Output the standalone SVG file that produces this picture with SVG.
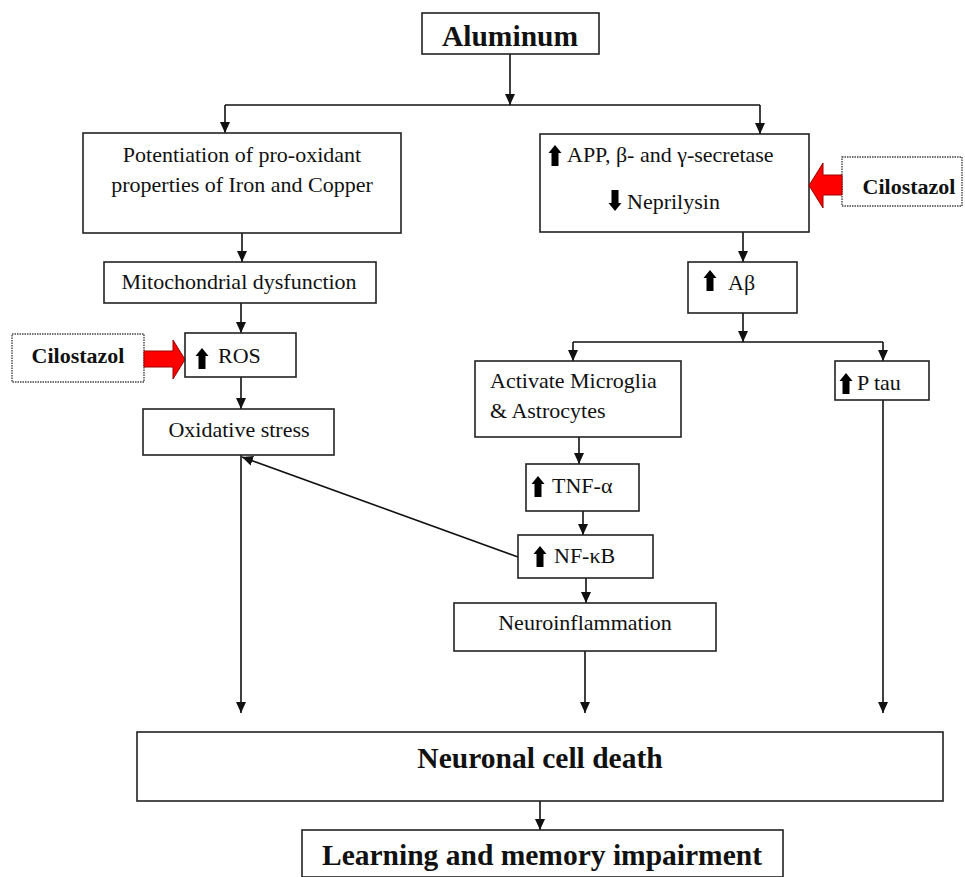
<svg xmlns="http://www.w3.org/2000/svg" xmlns:xlink="http://www.w3.org/1999/xlink" width="965" height="877" viewBox="0 0 965 877">
<style>
.box{fill:#fff;stroke:#222;stroke-width:1.6}
.dot{fill:#fff;stroke:#444;stroke-width:1.4;stroke-dasharray:1.5 1}
.t{font-family:"Liberation Serif","Times New Roman",serif;font-size:22px;fill:#111}
.b{font-family:"Liberation Serif","Times New Roman",serif;font-weight:bold;font-size:29.5px;fill:#111}
.bs{font-family:"Liberation Serif","Times New Roman",serif;font-weight:bold;font-size:22px;fill:#111}
.c{text-anchor:middle}
.ln{fill:none;stroke:#111;stroke-width:1.6}
.red{fill:#f00;stroke:#900;stroke-width:1}
</style>
<defs>
<marker id="ah" markerUnits="userSpaceOnUse" markerWidth="12" markerHeight="12" viewBox="0 0 12 12" refX="11" refY="6" orient="auto">
<path d="M0,1 L11,6 L0,11 Z" fill="#111"/>
</marker>
<path id="up" d="M0,0 L6.5,8 L3.5,8 L3.5,21 L-3.5,21 L-3.5,8 L-6.5,8 Z" fill="#000"/>
<path id="down" d="M0,21 L6.5,13 L3.5,13 L3.5,0 L-3.5,0 L-3.5,13 L-6.5,13 Z" fill="#000"/>
</defs>

<g id="connectors">
<line class="ln" x1="510" y1="54" x2="510" y2="105" marker-end="url(#ah)"/>
<line class="ln" x1="225" y1="105" x2="760" y2="105"/>
<line class="ln" x1="225" y1="105" x2="225" y2="133" marker-end="url(#ah)"/>
<line class="ln" x1="760" y1="105" x2="760" y2="134" marker-end="url(#ah)"/>
<line class="ln" x1="242" y1="233" x2="242" y2="262" marker-end="url(#ah)"/>
<line class="ln" x1="241" y1="303" x2="241" y2="333" marker-end="url(#ah)"/>
<line class="ln" x1="241" y1="377" x2="241" y2="409" marker-end="url(#ah)"/>
<line class="ln" x1="743" y1="232" x2="743" y2="262" marker-end="url(#ah)"/>
<line class="ln" x1="743" y1="313" x2="743" y2="342" marker-end="url(#ah)"/>
<line class="ln" x1="573" y1="342" x2="883" y2="342"/>
<line class="ln" x1="573" y1="342" x2="573" y2="361" marker-end="url(#ah)"/>
<line class="ln" x1="883" y1="342" x2="883" y2="361" marker-end="url(#ah)"/>
<line class="ln" x1="579" y1="437" x2="579" y2="464" marker-end="url(#ah)"/>
<line class="ln" x1="583" y1="511" x2="583" y2="535" marker-end="url(#ah)"/>
<line class="ln" x1="586" y1="578" x2="586" y2="603" marker-end="url(#ah)"/>
<line class="ln" x1="585" y1="651" x2="585" y2="713" marker-end="url(#ah)"/>
<line class="ln" x1="241" y1="455" x2="241" y2="713" marker-end="url(#ah)"/>
<line class="ln" x1="883" y1="400" x2="883" y2="713" marker-end="url(#ah)"/>
<line class="ln" x1="518" y1="557" x2="242" y2="457" marker-end="url(#ah)"/>
<line class="ln" x1="540" y1="801" x2="540" y2="830" marker-end="url(#ah)"/>
</g>

<g id="aluminum">
<rect class="box" x="422" y="13" width="177" height="41"/>
<text class="b c" x="510" y="46">Aluminum</text>
</g>

<g id="potentiation">
<rect class="box" x="83" y="133" width="318" height="100"/>
<text class="t c" x="242" y="162">Potentiation of pro-oxidant</text>
<text class="t c" x="242" y="192">properties of Iron and Copper</text>
</g>

<g id="app">
<rect class="box" x="540" y="134" width="269" height="98"/>
<use href="#up" x="555" y="145"/>
<text class="t" x="567" y="162">APP, β- and γ-secretase</text>
<use href="#down" x="615" y="190"/>
<text class="t" x="627" y="209">Neprilysin</text>
</g>

<g id="cilostazol-right">
<rect class="dot" x="842" y="157" width="120" height="49"/>
<text class="bs c" x="909" y="194">Cilostazol</text>
<path class="red" d="M842,175 L823,175 L823,163 L809,185.5 L823,208 L823,195 L842,195 Z"/>
</g>

<g id="mito">
<rect class="box" x="104" y="262" width="272" height="41"/>
<text class="t c" x="239" y="289">Mitochondrial dysfunction</text>
</g>

<g id="abeta">
<rect class="box" x="688" y="262" width="109" height="51"/>
<use href="#up" x="710" y="270"/>
<text class="t" x="728" y="290">Aβ</text>
</g>

<g id="cilostazol-left">
<rect class="dot" x="12" y="334" width="132" height="48"/>
<text class="bs c" x="78" y="363">Cilostazol</text>
<path class="red" d="M144,351 L173,351 L173,340 L185,359.5 L173,379 L173,367 L144,367 Z"/>
</g>

<g id="ros">
<rect class="box" x="185" y="333" width="111" height="44"/>
<use href="#up" x="202" y="348"/>
<text class="t" x="218" y="363">ROS</text>
</g>

<g id="oxidative">
<rect class="box" x="143" y="409" width="191" height="46"/>
<text class="t c" x="239" y="437">Oxidative stress</text>
</g>

<g id="activate">
<rect class="box" x="475" y="361" width="206" height="76"/>
<text class="t" x="490" y="388">Activate Microglia</text>
<text class="t" x="490" y="418">&amp; Astrocytes</text>
</g>

<g id="ptau">
<rect class="box" x="835" y="361" width="94" height="39"/>
<use href="#up" x="846" y="373"/>
<text class="t" x="857" y="390">P tau</text>
</g>

<g id="tnf">
<rect class="box" x="526" y="464" width="113" height="47"/>
<use href="#up" x="538" y="476"/>
<text class="t" x="552" y="493">TNF-α</text>
</g>

<g id="nfkb">
<rect class="box" x="518" y="535" width="135" height="43"/>
<use href="#up" x="540" y="546"/>
<text class="t" x="554" y="563">NF-κB</text>
</g>

<g id="neuroinflammation">
<rect class="box" x="454" y="603" width="262" height="48"/>
<text class="t c" x="585" y="630">Neuroinflammation</text>
</g>

<g id="neuronal">
<rect class="box" x="137" y="732" width="806" height="69"/>
<text class="b c" x="540" y="768">Neuronal cell death</text>
</g>

<g id="learning">
<rect class="box" x="302" y="830" width="481" height="47"/>
<text class="b c" x="542" y="865">Learning and memory impairment</text>
</g>
</svg>
